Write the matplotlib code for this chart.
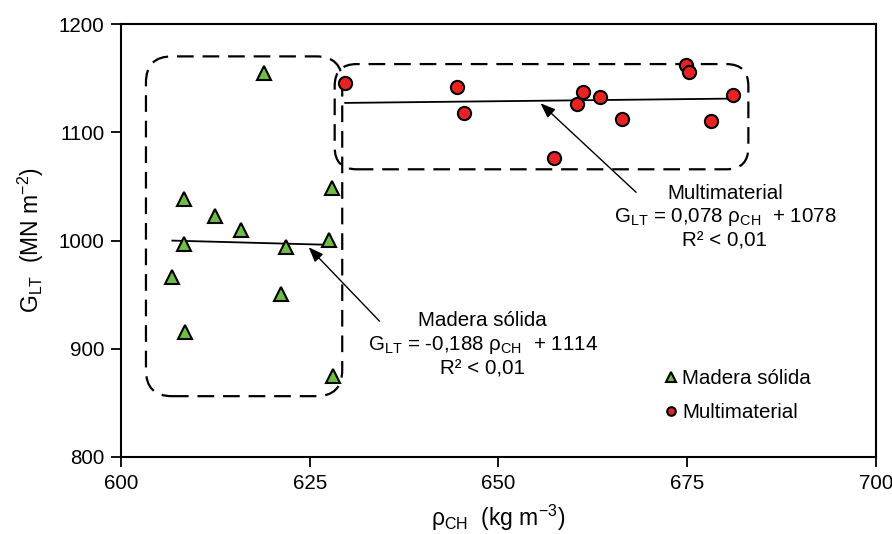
import numpy as np
import matplotlib
matplotlib.use('Agg')
import matplotlib.pyplot as plt
from matplotlib.patches import FancyBboxPatch

plt.rcParams['font.family'] = ['Liberation Sans', 'DejaVu Sans']
plt.rcParams['mathtext.fontset'] = 'custom'
plt.rcParams['mathtext.rm'] = 'Liberation Sans'
plt.rcParams['mathtext.it'] = 'Liberation Sans'

# datos
madera_x = [618.9, 608.3, 612.4, 615.9, 627.9, 608.3, 621.9, 627.6, 606.8, 621.2, 608.5, 628.1]
madera_y = [1154.5, 1038, 1023, 1009.8, 1048.9, 996.9, 993.8, 1000.6, 966.7, 950.7, 915.6, 875]
multi_x = [629.7, 644.5, 645.4, 657.4, 660.4, 661.2, 663.4, 666.4, 674.9, 675.3, 678.2, 681.1]
multi_y = [1145.2, 1142.1, 1118.1, 1076.3, 1125.9, 1137, 1132.9, 1112.6, 1162.1, 1156, 1110.7, 1134.4]

# rectas de regresion
madera_fit = (-0.188, 1114)
multi_fit = (0.078, 1078)

fig = plt.figure(figsize=(8.92, 5.34), dpi=100)
ax = fig.add_axes([0.1357, 0.1442, 0.8463, 0.8108])

fs = 14.8

ax.set_xlim(600, 700)
ax.set_ylim(800, 1200)
ax.set_xticks([600, 625, 650, 675, 700])
ax.set_yticks([800, 900, 1000, 1100, 1200])
ax.tick_params(direction='out', length=7, width=1.3, labelsize=fs, colors='black', pad=5)
for s in ax.spines.values():
    s.set_linewidth(1.5)

# lineas de tendencia
xm = np.array([min(madera_x), max(madera_x)])
ax.plot(xm, madera_fit[0] * xm + madera_fit[1], color='black', lw=1.3, zorder=2)
xc = np.array([min(multi_x), max(multi_x)])
ax.plot(xc, multi_fit[0] * xc + multi_fit[1], color='black', lw=1.3, zorder=2)

ax.plot(madera_x, madera_y, linestyle='none', marker='^', ms=10, mfc='#6DBE45',
        mec='black', mew=1.5, label='Madera sólida', zorder=3)
ax.plot(multi_x, multi_y, linestyle='none', marker='o', ms=9.5, mfc='#E82222',
        mec='black', mew=1.5, label='Multimaterial', zorder=3)

# cajas discontinuas redondeadas
px_x = 755 / 100.0
px_y = 433 / 400.0
aspect = px_x / px_y


def caja(x0, x1, y0, y1, r_px):
    r = r_px / px_x
    p = FancyBboxPatch((x0, y0), x1 - x0, y1 - y0,
                       boxstyle='round,pad=0,rounding_size=%f' % r,
                       mutation_aspect=aspect, fill=False, ec='black',
                       lw=1.6, ls=(0, (7.5, 4)), zorder=1, clip_on=False)
    ax.add_patch(p)


caja(603.3, 629.3, 856.2, 1170.1, 26)
caja(628.3, 683.1, 1065.8, 1163.0, 22)

arrow = dict(arrowstyle='-|>,head_length=0.9,head_width=0.35', color='black', lw=1.0)
ax.annotate('', xy=(624.6, 995.6), xytext=(634.5, 923.6), arrowprops=arrow)
ax.annotate('', xy=(655.3, 1128.5), xytext=(668.5, 1042.8), arrowprops=arrow)

ax.text(647.9, 926, 'Madera sólida', ha='center', va='center', fontsize=fs)
ax.text(647.9, 903.5, r'G$_{\mathrm{LT}}$ = -0,188 ρ$_{\mathrm{CH}}$  + 1114', ha='center', va='center', fontsize=fs)
ax.text(647.9, 881, 'R² < 0,01', ha='center', va='center', fontsize=fs)

ax.text(680.0, 1043.5, 'Multimaterial', ha='center', va='center', fontsize=fs)
ax.text(680.0, 1021.5, r'G$_{\mathrm{LT}}$ = 0,078 ρ$_{\mathrm{CH}}$  + 1078', ha='center', va='center', fontsize=fs)
ax.text(680.0, 999.5, 'R² < 0,01', ha='center', va='center', fontsize=fs)

leg = ax.legend(loc='lower right', bbox_to_anchor=(0.938, 0.037), frameon=False, fontsize=fs,
                handlelength=0.3, handletextpad=0.4, labelspacing=0.75, markerscale=0.65)

ax.set_xlabel(r'ρ$_{\mathrm{CH}}$  (kg m$^{-3}$)', fontsize=16.5, labelpad=7)
ax.set_ylabel(r'G$_{\mathrm{LT}}$  (MN m$^{-2}$)', fontsize=16.5, labelpad=9)

fig.savefig('out.png', dpi=100)
